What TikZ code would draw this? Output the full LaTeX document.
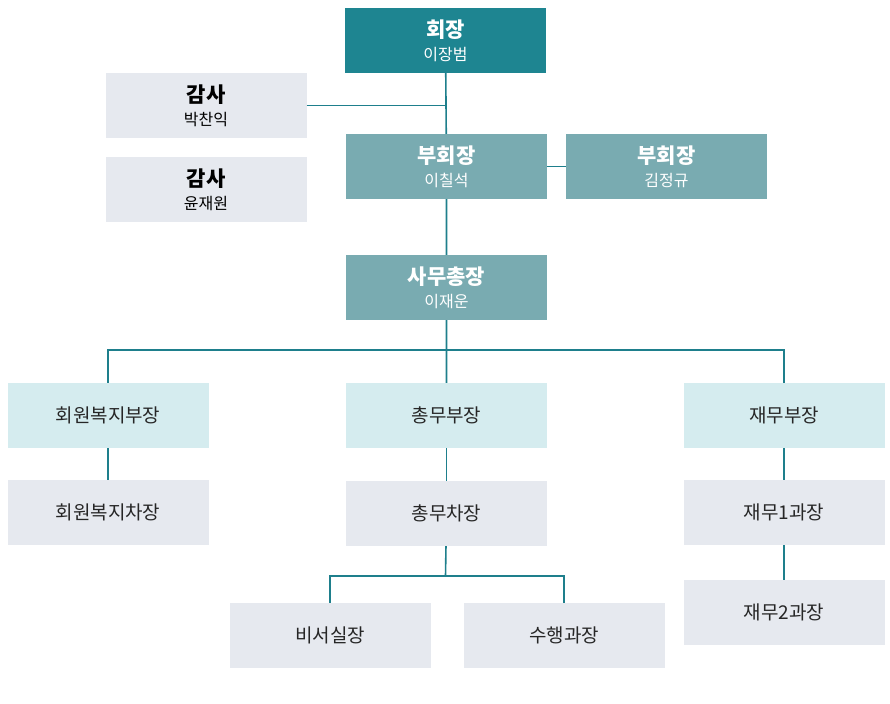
\documentclass[tikz,border=0pt]{standalone}
\usepackage{fontspec}
\setmainfont{Noto Sans CJK KR}
\usetikzlibrary{positioning}
\definecolor{chairteal}{HTML}{1E8591}
\definecolor{viceteal}{HTML}{79ABB1}
\definecolor{headcyan}{HTML}{D5ECEF}
\definecolor{boxgray}{HTML}{E6E9EF}
\definecolor{linkteal}{HTML}{1E7F8C}
\tikzset{
  orgbox/.style={minimum width=201pt, minimum height=65pt, inner sep=0pt, align=center, font=\fontsize{19}{24}\selectfont},
  chairbox/.style={orgbox, fill=chairteal, text=white},
  vicebox/.style={orgbox, fill=viceteal, text=white},
  headbox/.style={orgbox, fill=headcyan, text=black!85},
  staffbox/.style={orgbox, fill=boxgray, text=black!85},
  link/.style={draw=linkteal, line width=1.6pt}
}
\newcommand\orgtitle[2]{{\bfseries\fontsize{21}{26}\selectfont #1}\\[-1pt]{\fontsize{16}{20}\selectfont #2}}
\begin{document}
\begin{tikzpicture}[x=1pt, y=-1pt]
  \useasboundingbox (0,0) rectangle (890,703);

  \node[chairbox] at (445.5, 40.5) (chair) {\orgtitle{회장}{이장범}};
  \node[staffbox, text=black] at (206, 105.5) (audit1) {\orgtitle{감사}{박찬익}};
  \node[staffbox, text=black] at (206, 189.5) (audit2) {\orgtitle{감사}{윤재원}};
  \node[vicebox] at (446.5, 166.5) (vice1) {\orgtitle{부회장}{이칠석}};
  \node[vicebox] at (666.5, 166.5) (vice2) {\orgtitle{부회장}{김정규}};
  \node[vicebox] at (446.5, 287.5) (secgen) {\orgtitle{사무총장}{이재운}};

  \node[headbox] at (108, 415.5) (welfare) {회원복지부장};
  \node[headbox] at (446.5, 415.5) (general) {총무부장};
  \node[headbox] at (784, 415.5) (finance) {재무부장};

  \node[staffbox] at (108, 512.5) (welfare2) {회원복지차장};
  \node[staffbox] at (446.5, 513.5) (general2) {총무차장};
  \node[staffbox] at (784, 512.5) (finance1) {재무1과장};
  \node[staffbox] at (784, 612.5) (finance2) {재무2과장};
  \node[staffbox] at (330, 635.5) (secretary) {비서실장};
  \node[staffbox] at (564, 635.5) (escort) {수행과장};

  \coordinate (auditjoin) at (chair |- audit1);
  \coordinate (branch) at (445.5, 350);
  \coordinate (subbranch) at (445.5, 576);

  \path[link] (chair) -- (vice1) -- (secgen) -- (general);
  \path[link] (audit1.east) -- (auditjoin);
  \path[link] (vice1) -- (vice2);
  \path[link] (welfare) |- (branch) -| (finance);
  \path[link] (welfare) -- (welfare2);
  \path[link] (general) -- (general2);
  \path[link] (finance) -- (finance1) -- (finance2);
  \path[link] (secretary) |- (subbranch) -| (escort);
  \path[link] (general2) -- (subbranch);
\end{tikzpicture}
\end{document}
